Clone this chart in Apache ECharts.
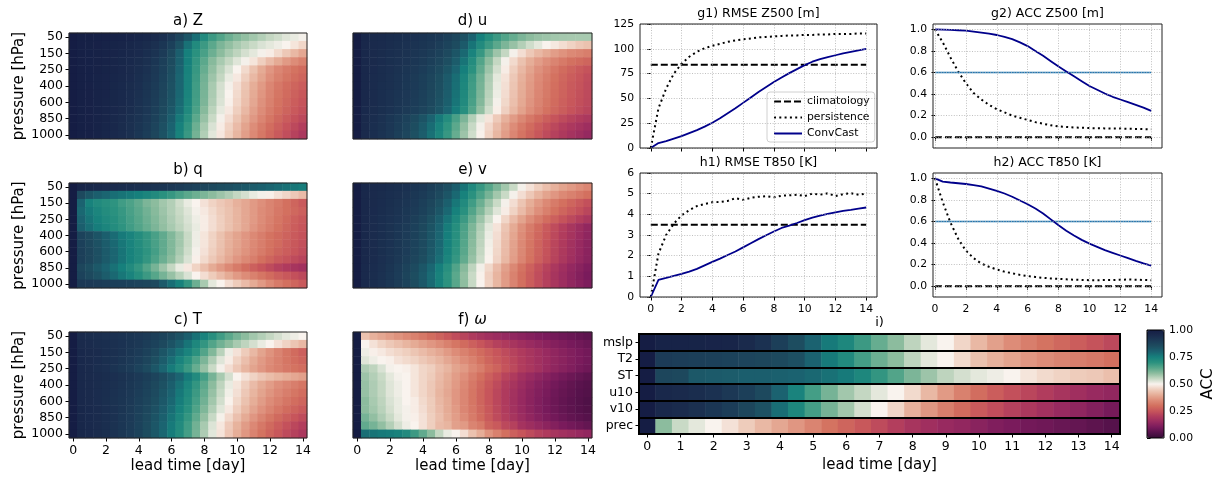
<!DOCTYPE html>
<html>
<head>
<meta charset="utf-8">
<style>
  html, body { margin: 0; padding: 0; background: #fff; }
  #chart { width: 1223px; height: 481px; }
</style>
<script src="https://cdn.jsdelivr.net/npm/echarts@6/dist/echarts.min.js"></script>
</head>
<body>
<div id="chart"></div>
<script>
// lead times of the forecast (days), one column every 12 h
const leadDays = [0,0.5,1,1.5,2,2.5,3,3.5,4,4.5,5,5.5,6,6.5,7,7.5,8,8.5,9,9.5,10,10.5,11,11.5,12,12.5,13,13.5,14];
const levels = ['50','100','150','200','250','300','400','500','600','700','850','925','1000'];
const surfaceVars = ['mslp','T2','ST','u10','v10','prec'];
const dayTicks = [0,2,4,6,8,10,12,14];
const accTicks = [0,0.2,0.4,0.6,0.8,1.0];
const rmseZTicks = [0,25,50,75,100,125];
const rmseTTicks = [0,1,2,3,4,5,6];

// line panels (g1, g2, h1, h2)
const climRmseZ500 = 84;
const climRmseT850 = 3.5;
const climAcc = 0;
const accThreshold = 0.6;
const persistRmseZ500 = [0,40,60,75,85,92,97,100.5,103,105,107,108.5,109.5,110.5,111.5,112,112.5,113,113.5,113.5,114,114,114.5,114.5,115,115,115,115.5,115.5];
const convRmseZ500 = [0,5,7,9.5,12,15,18,21.5,25.5,30,35,40,45.5,51,56.5,61.5,66.5,71,75.5,79.5,83.5,87,89.5,91.5,93.5,95.5,97,98.5,100];
const persistAccZ500 = [1.0,0.88,0.74,0.61,0.50,0.41,0.35,0.30,0.26,0.23,0.20,0.18,0.16,0.14,0.125,0.11,0.10,0.095,0.09,0.088,0.085,0.083,0.082,0.08,0.08,0.078,0.077,0.075,0.073];
const convAccZ500 = [1.0,0.998,0.995,0.992,0.988,0.98,0.97,0.96,0.948,0.93,0.91,0.88,0.845,0.80,0.755,0.705,0.655,0.61,0.565,0.52,0.475,0.44,0.405,0.375,0.35,0.325,0.30,0.275,0.245];
const persistRmseT850 = [0,2.1,3.0,3.55,3.95,4.2,4.4,4.5,4.58,4.6,4.65,4.78,4.7,4.8,4.85,4.88,4.82,4.9,4.92,4.95,4.88,5.0,4.95,5.02,4.88,4.98,5.02,4.95,5.0];
const convRmseT850 = [0,0.83,0.92,1.02,1.12,1.23,1.36,1.53,1.7,1.86,2.03,2.2,2.4,2.6,2.8,2.99,3.17,3.34,3.45,3.58,3.72,3.84,3.94,4.02,4.1,4.17,4.22,4.28,4.33];
const persistAccT850 = [1.0,0.78,0.59,0.44,0.33,0.26,0.21,0.18,0.155,0.135,0.12,0.105,0.095,0.085,0.078,0.072,0.068,0.064,0.06,0.058,0.056,0.056,0.057,0.058,0.06,0.062,0.06,0.058,0.055];
const convAccT850 = [1.0,0.97,0.962,0.955,0.948,0.938,0.925,0.905,0.885,0.86,0.83,0.795,0.76,0.72,0.675,0.62,0.565,0.515,0.47,0.43,0.395,0.365,0.335,0.31,0.285,0.26,0.235,0.212,0.19];

// ACC per pressure level (rows: 50 ... 1000 hPa)
const accZ = [
  [1.00,0.99,0.988,0.986,0.984,0.982,0.978,0.974,0.968,0.96,0.95,0.935,0.91,0.875,0.83,0.78,0.72,0.68,0.655,0.63,0.61,0.595,0.58,0.565,0.55,0.54,0.525,0.515,0.505],
  [1.00,0.99,0.987,0.984,0.98,0.976,0.972,0.966,0.958,0.948,0.935,0.915,0.885,0.84,0.775,0.72,0.68,0.645,0.615,0.595,0.575,0.56,0.545,0.53,0.52,0.51,0.5,0.48,0.46],
  [1.00,0.99,0.986,0.982,0.978,0.974,0.968,0.962,0.952,0.94,0.925,0.9,0.865,0.81,0.75,0.7,0.665,0.63,0.6,0.575,0.555,0.535,0.52,0.505,0.49,0.465,0.44,0.415,0.39],
  [1.00,0.99,0.986,0.982,0.978,0.972,0.966,0.958,0.948,0.935,0.915,0.89,0.855,0.805,0.75,0.69,0.645,0.605,0.575,0.55,0.525,0.505,0.48,0.45,0.42,0.395,0.37,0.35,0.33],
  [1.00,0.99,0.986,0.982,0.976,0.97,0.963,0.955,0.945,0.93,0.91,0.885,0.85,0.8,0.745,0.685,0.635,0.595,0.56,0.53,0.5,0.465,0.43,0.395,0.365,0.34,0.32,0.305,0.29],
  [1.00,0.99,0.986,0.98,0.975,0.968,0.96,0.952,0.94,0.925,0.905,0.88,0.845,0.795,0.74,0.68,0.625,0.585,0.55,0.515,0.485,0.45,0.415,0.385,0.355,0.33,0.31,0.295,0.28],
  [1.00,0.99,0.985,0.98,0.974,0.966,0.958,0.948,0.936,0.92,0.9,0.875,0.84,0.795,0.74,0.675,0.62,0.575,0.535,0.505,0.47,0.435,0.4,0.37,0.34,0.315,0.295,0.28,0.265],
  [1.00,0.99,0.985,0.98,0.974,0.966,0.957,0.947,0.934,0.918,0.898,0.872,0.837,0.791,0.737,0.673,0.618,0.572,0.532,0.5,0.465,0.43,0.395,0.364,0.335,0.31,0.29,0.272,0.256],
  [1.00,0.99,0.985,0.98,0.973,0.965,0.956,0.946,0.932,0.915,0.895,0.868,0.833,0.787,0.733,0.67,0.615,0.568,0.528,0.496,0.46,0.425,0.39,0.358,0.33,0.305,0.285,0.265,0.248],
  [1.00,0.99,0.985,0.979,0.972,0.963,0.954,0.943,0.929,0.911,0.89,0.862,0.826,0.78,0.725,0.663,0.605,0.558,0.518,0.485,0.45,0.415,0.38,0.35,0.322,0.298,0.277,0.258,0.24],
  [1.00,0.99,0.984,0.978,0.97,0.961,0.951,0.939,0.924,0.905,0.882,0.852,0.812,0.762,0.705,0.645,0.59,0.545,0.505,0.47,0.435,0.4,0.368,0.338,0.31,0.285,0.263,0.243,0.225],
  [1.00,0.99,0.984,0.977,0.969,0.959,0.948,0.935,0.919,0.899,0.874,0.842,0.8,0.748,0.69,0.63,0.575,0.53,0.49,0.455,0.42,0.385,0.352,0.322,0.295,0.27,0.247,0.225,0.205],
  [1.00,0.99,0.984,0.977,0.968,0.958,0.946,0.933,0.916,0.895,0.87,0.837,0.795,0.742,0.683,0.622,0.567,0.522,0.484,0.448,0.412,0.377,0.344,0.314,0.286,0.26,0.236,0.212,0.19]
];
const accQ = [
  [1.0,0.97,0.965,0.96,0.955,0.95,0.945,0.94,0.935,0.93,0.925,0.92,0.91,0.9,0.89,0.88,0.87,0.86,0.85,0.845,0.835,0.825,0.815,0.805,0.795,0.785,0.775,0.765,0.755],
  [1.0,0.86,0.83,0.81,0.795,0.78,0.77,0.76,0.75,0.735,0.72,0.7,0.685,0.665,0.645,0.63,0.615,0.6,0.585,0.57,0.55,0.535,0.515,0.505,0.495,0.475,0.46,0.44,0.42],
  [1.0,0.8,0.745,0.72,0.705,0.695,0.675,0.66,0.64,0.615,0.6,0.58,0.565,0.54,0.515,0.5,0.475,0.455,0.44,0.425,0.405,0.39,0.37,0.355,0.335,0.32,0.3,0.28,0.26],
  [1.0,0.79,0.76,0.735,0.715,0.7,0.685,0.665,0.645,0.625,0.605,0.585,0.565,0.545,0.525,0.505,0.485,0.465,0.445,0.43,0.41,0.39,0.37,0.35,0.335,0.315,0.3,0.285,0.27],
  [1.0,0.8,0.77,0.745,0.725,0.71,0.69,0.67,0.65,0.63,0.61,0.59,0.57,0.55,0.53,0.51,0.49,0.47,0.45,0.43,0.41,0.39,0.37,0.35,0.33,0.31,0.29,0.27,0.255],
  [1.0,0.81,0.78,0.755,0.735,0.715,0.695,0.675,0.655,0.635,0.615,0.595,0.575,0.555,0.535,0.515,0.49,0.47,0.45,0.43,0.41,0.39,0.365,0.345,0.325,0.305,0.285,0.265,0.25],
  [1.0,0.88,0.86,0.835,0.81,0.785,0.76,0.74,0.715,0.69,0.665,0.64,0.61,0.58,0.545,0.51,0.48,0.455,0.43,0.405,0.385,0.365,0.345,0.325,0.305,0.29,0.275,0.26,0.245],
  [1.0,0.885,0.865,0.84,0.815,0.79,0.765,0.74,0.715,0.69,0.665,0.64,0.61,0.58,0.545,0.51,0.48,0.455,0.43,0.405,0.385,0.365,0.345,0.325,0.305,0.29,0.27,0.255,0.24],
  [1.0,0.89,0.87,0.845,0.82,0.795,0.77,0.745,0.72,0.695,0.67,0.64,0.61,0.575,0.54,0.505,0.475,0.45,0.425,0.4,0.38,0.36,0.34,0.32,0.3,0.28,0.265,0.25,0.235],
  [1.0,0.89,0.87,0.845,0.82,0.795,0.77,0.745,0.72,0.69,0.66,0.63,0.6,0.565,0.53,0.495,0.465,0.44,0.415,0.39,0.365,0.345,0.325,0.3,0.28,0.26,0.245,0.23,0.215],
  [1.0,0.87,0.85,0.825,0.8,0.775,0.75,0.72,0.69,0.655,0.62,0.585,0.55,0.515,0.485,0.455,0.425,0.395,0.37,0.345,0.32,0.295,0.27,0.25,0.23,0.21,0.195,0.18,0.17],
  [1.0,0.88,0.86,0.84,0.815,0.79,0.765,0.74,0.71,0.68,0.65,0.62,0.59,0.56,0.53,0.5,0.47,0.445,0.42,0.395,0.37,0.35,0.33,0.31,0.29,0.27,0.255,0.24,0.225],
  [1.0,0.91,0.905,0.9,0.895,0.89,0.885,0.88,0.875,0.87,0.86,0.82,0.78,0.745,0.69,0.63,0.575,0.52,0.5,0.47,0.445,0.42,0.395,0.37,0.345,0.32,0.3,0.28,0.26]
];
const accT = [
  [1.0,0.95,0.945,0.94,0.935,0.93,0.925,0.92,0.912,0.903,0.892,0.878,0.86,0.838,0.81,0.775,0.74,0.705,0.675,0.645,0.62,0.6,0.58,0.565,0.55,0.535,0.52,0.51,0.5],
  [1.0,0.955,0.95,0.945,0.94,0.934,0.927,0.918,0.908,0.895,0.88,0.86,0.835,0.805,0.77,0.73,0.69,0.655,0.625,0.6,0.575,0.555,0.535,0.515,0.5,0.475,0.455,0.435,0.415],
  [1.0,0.96,0.955,0.949,0.942,0.934,0.925,0.914,0.9,0.882,0.86,0.832,0.8,0.77,0.74,0.7,0.655,0.61,0.56,0.51,0.475,0.445,0.415,0.385,0.36,0.335,0.31,0.29,0.27],
  [1.0,0.96,0.954,0.947,0.939,0.93,0.92,0.907,0.891,0.871,0.846,0.815,0.78,0.74,0.7,0.66,0.615,0.57,0.525,0.49,0.455,0.425,0.395,0.37,0.35,0.33,0.31,0.295,0.28],
  [1.0,0.96,0.953,0.945,0.936,0.926,0.914,0.899,0.88,0.857,0.828,0.795,0.758,0.72,0.68,0.635,0.59,0.545,0.505,0.47,0.44,0.41,0.385,0.365,0.345,0.33,0.315,0.305,0.295],
  [1.0,0.96,0.955,0.95,0.944,0.937,0.929,0.919,0.907,0.892,0.874,0.852,0.826,0.796,0.76,0.72,0.67,0.62,0.575,0.535,0.5,0.475,0.455,0.437,0.422,0.41,0.4,0.39,0.38],
  [1.0,0.96,0.954,0.948,0.941,0.933,0.924,0.913,0.9,0.884,0.864,0.84,0.81,0.775,0.735,0.69,0.645,0.6,0.555,0.515,0.48,0.45,0.42,0.395,0.375,0.355,0.34,0.325,0.31],
  [1.0,0.96,0.954,0.947,0.94,0.931,0.921,0.909,0.895,0.878,0.857,0.832,0.8,0.764,0.724,0.68,0.635,0.59,0.547,0.508,0.472,0.44,0.41,0.385,0.363,0.343,0.325,0.31,0.295],
  [1.0,0.96,0.953,0.946,0.938,0.929,0.918,0.905,0.89,0.872,0.85,0.823,0.791,0.755,0.715,0.67,0.625,0.58,0.537,0.498,0.462,0.43,0.4,0.374,0.35,0.33,0.311,0.295,0.28],
  [1.0,0.965,0.957,0.949,0.94,0.93,0.918,0.903,0.886,0.866,0.842,0.814,0.781,0.744,0.703,0.658,0.612,0.567,0.524,0.485,0.449,0.416,0.386,0.359,0.335,0.313,0.293,0.276,0.26],
  [1.0,0.965,0.957,0.949,0.94,0.93,0.917,0.902,0.883,0.861,0.835,0.805,0.77,0.732,0.689,0.642,0.594,0.547,0.504,0.464,0.428,0.395,0.365,0.337,0.312,0.289,0.268,0.249,0.232],
  [1.0,0.965,0.957,0.949,0.94,0.929,0.916,0.9,0.88,0.856,0.828,0.796,0.76,0.72,0.675,0.625,0.575,0.527,0.483,0.443,0.407,0.374,0.343,0.315,0.289,0.265,0.243,0.222,0.205],
  [1.0,0.965,0.957,0.948,0.938,0.927,0.914,0.897,0.877,0.853,0.825,0.792,0.755,0.715,0.67,0.62,0.57,0.522,0.478,0.437,0.4,0.366,0.334,0.305,0.278,0.253,0.23,0.21,0.19]
];
const accU = [
  [1.00,0.96,0.955,0.95,0.945,0.94,0.935,0.93,0.925,0.915,0.905,0.89,0.87,0.84,0.8,0.75,0.71,0.68,0.655,0.635,0.615,0.6,0.59,0.585,0.58,0.578,0.576,0.575,0.575],
  [1.00,0.96,0.955,0.95,0.944,0.938,0.932,0.926,0.918,0.908,0.895,0.878,0.855,0.82,0.77,0.72,0.68,0.645,0.615,0.59,0.565,0.54,0.52,0.5,0.485,0.47,0.455,0.44,0.43],
  [1.00,0.96,0.954,0.948,0.942,0.935,0.928,0.92,0.91,0.898,0.882,0.86,0.83,0.79,0.74,0.685,0.63,0.585,0.55,0.505,0.47,0.44,0.415,0.395,0.375,0.36,0.345,0.335,0.325],
  [1.00,0.96,0.953,0.946,0.939,0.932,0.924,0.915,0.904,0.89,0.872,0.848,0.815,0.77,0.715,0.655,0.6,0.55,0.505,0.465,0.43,0.4,0.375,0.355,0.335,0.318,0.302,0.29,0.28],
  [1.00,0.96,0.952,0.944,0.936,0.928,0.919,0.909,0.896,0.88,0.86,0.833,0.797,0.752,0.7,0.64,0.585,0.535,0.49,0.45,0.415,0.385,0.358,0.335,0.313,0.293,0.275,0.26,0.245],
  [1.00,0.96,0.951,0.943,0.934,0.925,0.915,0.904,0.89,0.872,0.85,0.82,0.782,0.735,0.68,0.625,0.57,0.52,0.478,0.44,0.405,0.375,0.348,0.325,0.303,0.283,0.265,0.25,0.235],
  [1.00,0.96,0.951,0.942,0.933,0.924,0.914,0.902,0.888,0.87,0.847,0.817,0.778,0.73,0.675,0.62,0.565,0.515,0.472,0.435,0.4,0.37,0.343,0.32,0.298,0.278,0.26,0.245,0.23],
  [1.00,0.96,0.95,0.941,0.932,0.922,0.912,0.9,0.885,0.867,0.844,0.813,0.774,0.726,0.671,0.615,0.56,0.511,0.468,0.431,0.397,0.367,0.34,0.317,0.295,0.275,0.258,0.242,0.228],
  [1.00,0.96,0.95,0.94,0.93,0.92,0.909,0.897,0.882,0.863,0.839,0.808,0.768,0.72,0.665,0.608,0.553,0.505,0.462,0.425,0.392,0.362,0.335,0.312,0.29,0.271,0.254,0.238,0.225],
  [1.00,0.958,0.948,0.938,0.927,0.916,0.904,0.891,0.875,0.855,0.83,0.797,0.756,0.707,0.652,0.595,0.54,0.493,0.452,0.415,0.382,0.353,0.327,0.304,0.283,0.264,0.247,0.232,0.218],
  [1.00,0.955,0.943,0.93,0.916,0.9,0.883,0.862,0.835,0.8,0.76,0.715,0.665,0.615,0.565,0.52,0.48,0.442,0.405,0.372,0.342,0.315,0.29,0.268,0.248,0.23,0.214,0.2,0.188],
  [1.00,0.955,0.942,0.928,0.912,0.894,0.874,0.85,0.82,0.783,0.74,0.694,0.645,0.595,0.547,0.505,0.463,0.423,0.385,0.35,0.318,0.29,0.265,0.243,0.223,0.205,0.19,0.175,0.162],
  [1.00,0.955,0.941,0.926,0.909,0.89,0.869,0.844,0.813,0.775,0.732,0.685,0.635,0.585,0.54,0.497,0.455,0.413,0.375,0.34,0.308,0.279,0.253,0.23,0.21,0.192,0.175,0.16,0.145]
];
const accV = [
  [1.0,0.96,0.955,0.95,0.944,0.938,0.93,0.92,0.908,0.893,0.873,0.847,0.812,0.77,0.725,0.685,0.65,0.615,0.58,0.545,0.505,0.475,0.45,0.425,0.405,0.385,0.37,0.355,0.34],
  [1.0,0.96,0.954,0.948,0.941,0.934,0.925,0.914,0.9,0.883,0.86,0.83,0.79,0.745,0.7,0.66,0.62,0.58,0.545,0.505,0.47,0.44,0.41,0.385,0.365,0.345,0.33,0.315,0.3],
  [1.0,0.96,0.953,0.946,0.938,0.929,0.919,0.906,0.89,0.87,0.843,0.808,0.765,0.72,0.675,0.63,0.585,0.545,0.505,0.47,0.435,0.4,0.37,0.345,0.32,0.3,0.28,0.26,0.24],
  [1.0,0.96,0.952,0.944,0.935,0.925,0.914,0.9,0.882,0.86,0.83,0.792,0.748,0.702,0.655,0.61,0.565,0.525,0.49,0.455,0.42,0.385,0.355,0.328,0.303,0.28,0.26,0.24,0.22],
  [1.0,0.96,0.951,0.942,0.932,0.921,0.908,0.892,0.872,0.846,0.812,0.772,0.727,0.68,0.632,0.585,0.54,0.5,0.46,0.42,0.385,0.352,0.322,0.295,0.27,0.246,0.225,0.205,0.185],
  [1.0,0.96,0.95,0.94,0.929,0.917,0.903,0.886,0.864,0.836,0.8,0.757,0.71,0.662,0.614,0.567,0.52,0.478,0.435,0.395,0.357,0.322,0.29,0.26,0.232,0.206,0.182,0.16,0.14],
  [1.0,0.96,0.95,0.94,0.928,0.915,0.9,0.882,0.86,0.831,0.795,0.752,0.705,0.656,0.608,0.56,0.513,0.47,0.428,0.388,0.35,0.315,0.283,0.253,0.225,0.2,0.177,0.155,0.135],
  [1.0,0.96,0.95,0.939,0.927,0.914,0.898,0.88,0.857,0.828,0.792,0.748,0.7,0.651,0.603,0.555,0.508,0.465,0.423,0.383,0.345,0.31,0.278,0.248,0.22,0.195,0.172,0.15,0.13],
  [1.0,0.96,0.95,0.939,0.926,0.913,0.897,0.878,0.855,0.825,0.788,0.744,0.696,0.647,0.598,0.55,0.504,0.461,0.42,0.38,0.342,0.307,0.275,0.245,0.217,0.192,0.169,0.148,0.128],
  [1.0,0.96,0.949,0.937,0.924,0.91,0.893,0.873,0.849,0.818,0.78,0.736,0.688,0.639,0.59,0.543,0.498,0.456,0.415,0.375,0.338,0.303,0.271,0.241,0.213,0.188,0.165,0.144,0.125],
  [1.0,0.958,0.946,0.933,0.918,0.901,0.881,0.857,0.828,0.793,0.752,0.706,0.656,0.605,0.555,0.507,0.462,0.42,0.38,0.342,0.306,0.273,0.242,0.214,0.188,0.165,0.144,0.125,0.108],
  [1.0,0.957,0.945,0.931,0.915,0.897,0.876,0.851,0.821,0.785,0.743,0.696,0.646,0.595,0.545,0.497,0.452,0.41,0.37,0.332,0.297,0.264,0.234,0.206,0.18,0.157,0.136,0.117,0.1],
  [1.0,0.957,0.945,0.932,0.916,0.898,0.878,0.853,0.823,0.787,0.745,0.698,0.648,0.597,0.547,0.5,0.455,0.413,0.373,0.335,0.3,0.267,0.237,0.209,0.183,0.16,0.139,0.121,0.105]
];
const accW = [
  [1.0,0.43,0.405,0.39,0.375,0.36,0.345,0.33,0.315,0.295,0.275,0.255,0.235,0.215,0.195,0.18,0.168,0.157,0.147,0.138,0.128,0.118,0.108,0.1,0.092,0.084,0.076,0.068,0.06],
  [1.0,0.5,0.475,0.455,0.44,0.425,0.41,0.395,0.38,0.365,0.35,0.33,0.31,0.29,0.27,0.25,0.23,0.21,0.195,0.18,0.165,0.152,0.14,0.128,0.117,0.106,0.096,0.087,0.078],
  [1.0,0.51,0.495,0.485,0.47,0.46,0.45,0.435,0.42,0.405,0.39,0.37,0.35,0.33,0.31,0.29,0.27,0.25,0.23,0.212,0.195,0.18,0.165,0.15,0.137,0.124,0.112,0.1,0.09],
  [1.0,0.525,0.51,0.5,0.495,0.475,0.465,0.455,0.44,0.425,0.41,0.39,0.37,0.35,0.33,0.305,0.28,0.26,0.24,0.22,0.2,0.184,0.168,0.153,0.139,0.126,0.113,0.101,0.09],
  [1.0,0.57,0.555,0.53,0.505,0.5,0.495,0.48,0.46,0.45,0.425,0.41,0.385,0.37,0.345,0.325,0.295,0.275,0.245,0.225,0.2,0.185,0.17,0.15,0.135,0.122,0.11,0.095,0.085],
  [1.0,0.585,0.565,0.545,0.52,0.505,0.5,0.48,0.46,0.445,0.42,0.4,0.375,0.355,0.325,0.3,0.27,0.245,0.215,0.195,0.17,0.152,0.135,0.12,0.105,0.092,0.08,0.07,0.06],
  [1.0,0.59,0.57,0.55,0.525,0.51,0.5,0.48,0.46,0.44,0.415,0.395,0.37,0.345,0.315,0.285,0.255,0.23,0.2,0.18,0.157,0.138,0.12,0.105,0.09,0.078,0.066,0.056,0.048],
  [1.0,0.59,0.57,0.55,0.525,0.51,0.5,0.48,0.46,0.44,0.41,0.39,0.365,0.34,0.31,0.28,0.25,0.222,0.195,0.172,0.15,0.13,0.113,0.098,0.084,0.072,0.062,0.052,0.045],
  [1.0,0.6,0.575,0.555,0.53,0.515,0.5,0.49,0.465,0.445,0.415,0.395,0.365,0.34,0.31,0.28,0.25,0.222,0.195,0.17,0.148,0.128,0.11,0.095,0.08,0.068,0.058,0.048,0.04],
  [1.0,0.6,0.58,0.56,0.535,0.515,0.505,0.49,0.47,0.445,0.42,0.395,0.37,0.34,0.315,0.285,0.255,0.225,0.198,0.172,0.15,0.13,0.112,0.096,0.082,0.07,0.06,0.05,0.042],
  [1.0,0.62,0.595,0.57,0.545,0.52,0.505,0.495,0.475,0.45,0.425,0.4,0.375,0.35,0.32,0.29,0.26,0.23,0.205,0.18,0.158,0.138,0.12,0.104,0.09,0.078,0.067,0.058,0.05],
  [1.0,0.64,0.62,0.595,0.565,0.535,0.51,0.5,0.475,0.45,0.42,0.41,0.38,0.37,0.335,0.32,0.275,0.26,0.225,0.21,0.175,0.16,0.145,0.13,0.115,0.1,0.09,0.08,0.07],
  [1.0,0.78,0.77,0.76,0.755,0.745,0.72,0.68,0.64,0.6,0.55,0.515,0.5,0.47,0.43,0.4,0.36,0.33,0.3,0.27,0.25,0.23,0.21,0.195,0.18,0.17,0.16,0.15,0.14]
];
// ACC of surface variables (rows: mslp, T2, ST, u10, v10, prec)
const accSurface = [
  [1.0,0.98,0.978,0.976,0.974,0.97,0.955,0.93,0.89,0.85,0.8,0.76,0.73,0.68,0.635,0.6,0.555,0.52,0.5,0.46,0.415,0.38,0.35,0.325,0.305,0.285,0.265,0.245,0.225],
  [1.0,0.9,0.895,0.89,0.885,0.88,0.875,0.87,0.86,0.845,0.8,0.76,0.72,0.67,0.63,0.6,0.555,0.52,0.5,0.465,0.43,0.405,0.385,0.365,0.35,0.335,0.325,0.315,0.3],
  [1.0,0.87,0.865,0.825,0.82,0.815,0.81,0.81,0.805,0.8,0.79,0.775,0.76,0.73,0.69,0.655,0.615,0.585,0.555,0.535,0.52,0.51,0.5,0.48,0.465,0.455,0.445,0.44,0.425],
  [1.0,0.96,0.955,0.945,0.93,0.91,0.89,0.86,0.8,0.74,0.67,0.62,0.58,0.55,0.52,0.5,0.465,0.415,0.37,0.33,0.295,0.265,0.24,0.22,0.2,0.18,0.165,0.15,0.14],
  [1.0,0.96,0.95,0.935,0.915,0.895,0.87,0.84,0.78,0.73,0.67,0.62,0.58,0.535,0.5,0.46,0.405,0.365,0.325,0.29,0.26,0.235,0.21,0.19,0.17,0.15,0.135,0.115,0.095],
  [1.0,0.6,0.545,0.52,0.5,0.475,0.445,0.415,0.39,0.365,0.335,0.305,0.28,0.255,0.23,0.205,0.18,0.165,0.15,0.14,0.125,0.11,0.1,0.09,0.085,0.075,0.07,0.06,0.05]
];

// reversed "curl"-like diverging colormap, 0 -> 1
const curlColors = ['#340d35','#56124b','#7a1b5c','#982a60','#b13c5d','#c7555b','#d3705f','#dd8c78','#e6ae98','#efcfbf','#f9f3ee',
                    '#c4d7c2','#8cbc9e','#56a68a','#2a917f','#16807c','#1b6270','#1d4d60','#1c3b57','#1a2b4d','#151d44'];

const FONT = 'DejaVu Sans';
const txt = (size) => ({ fontFamily: FONT, fontSize: size, color: '#000' });
const chart = echarts.init(document.getElementById('chart'), null, { renderer: 'canvas' });

const grid = [], xAxis = [], yAxis = [], series = [], title = [];
const heatSeries = [];

function addTitle(text, x, top, size) {
  title.push({
    text, left: x, top, textAlign: 'center', padding: 0,
    textStyle: { ...txt(size), fontWeight: 'normal', rich: { w: { ...txt(size), fontStyle: 'italic' } } }
  });
}

function heatmapData(rows) {
  const data = [];
  rows.forEach((row, r) => row.forEach((v, c) => data.push([c, r, v])));
  return data;
}

const heatPanels = [
  { name: 'a) Z', rows: accZ, box: [69, 33, 238, 106], titleTop: 14, showX: false, showY: true },
  { name: 'b) q', rows: accQ, box: [69, 183, 238, 105], titleTop: 163, showX: false, showY: true },
  { name: 'c) T', rows: accT, box: [69, 332, 238, 106], titleTop: 313, showX: true, showY: true },
  { name: 'd) u', rows: accU, box: [353, 33, 239, 106], titleTop: 14, showX: false, showY: false },
  { name: 'e) v', rows: accV, box: [353, 183, 239, 105], titleTop: 163, showX: false, showY: false },
  { name: 'f) {w|ω}', rows: accW, box: [353, 332, 239, 106], titleTop: 313, showX: true, showY: false }
];

heatPanels.forEach((p) => {
  const gi = grid.length;
  const [left, top, width, height] = p.box;
  grid.push({ left, top, width, height, show: true, borderColor: '#222', borderWidth: 1, backgroundColor: 'transparent', z: 10 });
  xAxis.push({
    gridIndex: gi, type: 'category', data: leadDays.map(String),
    axisLine: { show: false },
    axisTick: { show: p.showX, interval: 3, alignWithLabel: true, length: 3.5, lineStyle: { color: '#000' } },
    axisLabel: { show: p.showX, interval: 3, margin: 6, ...txt(12.5) },
    splitLine: { show: false },
    name: p.showX ? 'lead time [day]' : '', nameLocation: 'middle', nameGap: 21, nameTextStyle: txt(15)
  });
  yAxis.push({
    gridIndex: gi, type: 'category', data: levels, inverse: true,
    axisLine: { show: false },
    axisTick: { show: p.showY, interval: 1, alignWithLabel: true, length: 3.5, lineStyle: { color: '#000' } },
    axisLabel: { show: p.showY, interval: 1, margin: 6, ...txt(12.5) },
    splitLine: { show: false },
    name: p.showY ? 'pressure [hPa]' : '', nameLocation: 'middle', nameRotate: 90, nameGap: 42, nameTextStyle: txt(15)
  });
  heatSeries.push(series.length);
  series.push({ type: 'heatmap', xAxisIndex: gi, yAxisIndex: gi, data: heatmapData(p.rows), silent: true });
  addTitle(p.name, left + width / 2, p.titleTop, 15);
});

// line panels
const linePanels = [
  { name: 'g1) RMSE Z500 [m]', box: [640, 24, 237, 124], titleTop: 7, xMin: -0.7, yMin: 0, yMax: 125, yTicks: rmseZTicks, fmt: (v) => String(v),
    clim: climRmseZ500, persist: persistRmseZ500, conv: convRmseZ500, threshold: false, showX: false },
  { name: 'g2) ACC Z500 [m]', box: [933, 24, 229, 124], titleTop: 7, xMin: -0.13, yMin: -0.1, yMax: 1.05, yTicks: accTicks, fmt: (v) => v.toFixed(1),
    clim: climAcc, persist: persistAccZ500, conv: convAccZ500, threshold: true, showX: false },
  { name: 'h1) RMSE T850 [K]', box: [640, 173, 237, 124], titleTop: 156, xMin: -0.7, yMin: 0, yMax: 6, yTicks: rmseTTicks, fmt: (v) => String(v),
    clim: climRmseT850, persist: persistRmseT850, conv: convRmseT850, threshold: false, showX: true },
  { name: 'h2) ACC T850 [K]', box: [933, 173, 229, 124], titleTop: 156, xMin: -0.13, yMin: -0.1, yMax: 1.05, yTicks: accTicks, fmt: (v) => v.toFixed(1),
    clim: climAcc, persist: persistAccT850, conv: convAccT850, threshold: true, showX: true }
];

linePanels.forEach((p) => {
  const gi = grid.length;
  const [left, top, width, height] = p.box;
  grid.push({ left, top, width, height, show: true, borderColor: '#222', borderWidth: 1, backgroundColor: 'transparent', z: 10 });
  xAxis.push({
    gridIndex: gi, type: 'value', min: p.xMin, max: 14.7,
    axisLine: { show: false },
    axisTick: { show: true, customValues: dayTicks, length: 3.5, lineStyle: { color: '#000' } },
    axisLabel: { show: p.showX, customValues: dayTicks, margin: 7, ...txt(10.8) },
    splitLine: { show: false }
  });
  yAxis.push({
    gridIndex: gi, type: 'value', min: p.yMin, max: p.yMax,
    axisLine: { show: false },
    axisTick: { show: true, customValues: p.yTicks, length: 3.5, lineStyle: { color: '#000' } },
    axisLabel: { customValues: p.yTicks, formatter: p.fmt, margin: 6, ...txt(10.8) },
    splitLine: { show: false }
  });
  const gridLines = dayTicks.map((v) => ({ xAxis: v })).concat(p.yTicks.map((v) => ({ yAxis: v })));
  series.push({
    name: 'climatology', type: 'line', xAxisIndex: gi, yAxisIndex: gi, symbol: 'none', silent: true, color: '#000',
    data: [[leadDays[0], p.clim], [leadDays[leadDays.length - 1], p.clim]],
    lineStyle: { color: '#000', width: 2, type: [7, 3] },
    markLine: { silent: true, symbol: ['none', 'none'], label: { show: false }, animation: false,
      lineStyle: { color: '#b0b0b0', width: 0.8, type: [1, 1.6] }, emphasis: { disabled: true }, data: gridLines }
  });
  series.push({
    name: 'persistence', type: 'line', xAxisIndex: gi, yAxisIndex: gi, symbol: 'none', silent: true, color: '#000',
    data: leadDays.map((d, i) => [d, p.persist[i]]),
    lineStyle: { color: '#000', width: 2, type: [2, 3.3] }
  });
  if (p.threshold) {
    series.push({
      name: 'threshold', type: 'line', xAxisIndex: gi, yAxisIndex: gi, symbol: 'none', silent: true, color: '#1f77b4',
      data: [[leadDays[0], accThreshold], [leadDays[leadDays.length - 1], accThreshold]],
      lineStyle: { color: '#1f77b4', width: 1.3 }
    });
  }
  series.push({
    name: 'ConvCast', type: 'line', xAxisIndex: gi, yAxisIndex: gi, symbol: 'none', silent: true, color: '#00008b',
    data: leadDays.map((d, i) => [d, p.conv[i]]),
    lineStyle: { color: '#00008b', width: 1.8 }
  });
  addTitle(p.name, left + width / 2, p.titleTop, 12.5);
});

// surface variable heatmap (i)
(function () {
  const gi = grid.length;
  grid.push({ left: 639, top: 334, width: 481, height: 100, show: true, borderColor: '#000', borderWidth: 2, backgroundColor: 'transparent', z: 10 });
  xAxis.push({
    gridIndex: gi, type: 'category', data: leadDays.map(String),
    axisLine: { show: false },
    axisTick: { show: true, interval: 1, alignWithLabel: true, length: 3.5, lineStyle: { color: '#000' } },
    axisLabel: { interval: 1, margin: 6, ...txt(12.5) },
    name: 'lead time [day]', nameLocation: 'middle', nameGap: 24, nameTextStyle: txt(15)
  });
  yAxis.push({
    gridIndex: gi, type: 'category', data: surfaceVars, inverse: true, z: 10,
    axisLine: { show: false },
    axisTick: { show: true, interval: 0, alignWithLabel: true, length: 3.5, lineStyle: { color: '#000' } },
    axisLabel: { interval: 0, margin: 6, ...txt(12.5) },
    splitLine: { show: true, interval: 0, lineStyle: { color: '#000', width: 2 } }
  });
  heatSeries.push(series.length);
  series.push({ type: 'heatmap', xAxisIndex: gi, yAxisIndex: gi, data: heatmapData(accSurface), silent: true });
  addTitle('i)', 879.5, 316, 13);
})();

// colorbar axis
(function () {
  const gi = grid.length;
  grid.push({ left: 1147, top: 330, width: 17, height: 108, show: true, borderColor: '#000', borderWidth: 1, backgroundColor: 'transparent', z: 10 });
  xAxis.push({ gridIndex: gi, type: 'value', min: 0, max: 1, show: false });
  yAxis.push({
    gridIndex: gi, type: 'value', min: 0, max: 1, interval: 0.25, position: 'right',
    axisLine: { show: false },
    axisTick: { show: true, length: 3.5, lineStyle: { color: '#000' } },
    axisLabel: { margin: 5, formatter: (v) => v.toFixed(2), ...txt(10.8) },
    splitLine: { show: false },
    name: 'ACC', nameLocation: 'middle', nameRotate: 90, nameGap: 37, nameTextStyle: txt(15)
  });
})();

chart.setOption({
  animation: false,
  backgroundColor: '#fff',
  title,
  grid, xAxis, yAxis, series,
  legend: {
    data: ['climatology', 'persistence', 'ConvCast'],
    orient: 'vertical', left: 767, top: 92,
    itemWidth: 28, itemHeight: 10, itemGap: 5,
    padding: [4, 5, 3, 6],
    itemStyle: { opacity: 0 },
    borderColor: '#d0d0d0', borderWidth: 1, borderRadius: 3, backgroundColor: 'rgba(255,255,255,0.85)',
    textStyle: txt(10.8), selectedMode: false
  },
  visualMap: {
    type: 'continuous', min: 0, max: 1, seriesIndex: heatSeries,
    calculable: false, hoverLink: false, padding: 0,
    left: 1147, top: 330, itemWidth: 17, itemHeight: 108,
    inRange: { color: curlColors }
  }
});
</script>
</body>
</html>
